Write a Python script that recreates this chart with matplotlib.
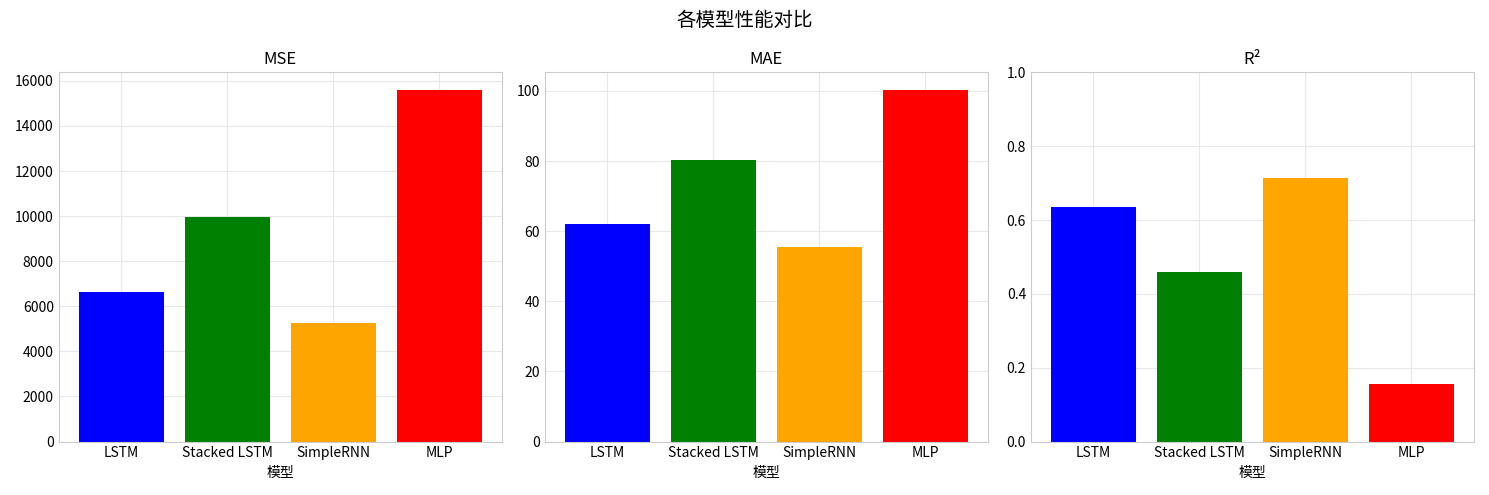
import matplotlib
matplotlib.use("Agg")
import matplotlib.pyplot as plt

plt.rcParams['font.family'] = ['Noto Sans CJK SC', 'DejaVu Sans']
plt.rcParams['axes.unicode_minus'] = False

models = ["LSTM", "Stacked LSTM", "SimpleRNN", "MLP"]
colors = ["blue", "green", "orange", "red"]
mse = [6650, 9950, 5250, 15600]
mae = [62.0, 80.3, 55.5, 100.3]
r2 = [0.635, 0.46, 0.715, 0.155]

fig, axes = plt.subplots(1, 3, figsize=(14.89, 4.95), dpi=100)
for ax, vals, title in zip(axes, [mse, mae, r2], ["MSE", "MAE", "R²"]):
    ax.bar(models, vals, color=colors)
    ax.set_title(title, fontsize=12)
    ax.set_xlabel("模型", fontsize=10)
    ax.grid(True, color="#e8e8e8", linewidth=0.8)
    ax.set_axisbelow(True)
    for s in ax.spines.values():
        s.set_color("#cccccc")
    ax.tick_params(length=0, labelsize=10)
axes[2].set_ylim(0, 1.0)
fig.suptitle("各模型性能对比", fontsize=14)
fig.tight_layout()
fig.savefig("out.png")
